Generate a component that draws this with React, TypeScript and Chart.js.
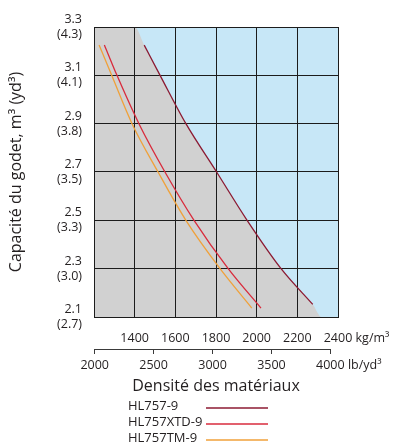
import React, { useEffect, useRef } from 'react';
import { Chart, registerables } from 'chart.js';

// ---- data ----
const kgTicks = [1200, 1400, 1600, 1800, 2000, 2200, 2400];
const lbTicks = [2000, 2500, 3000, 3500, 4000];
const lbRange = [1994, 4065];
const capTicks = [2.1, 2.3, 2.5, 2.7, 2.9, 3.1, 3.3];
const capM3Labels = ['2.1', '2.3', '2.5', '2.7', '2.9', '3.1', '3.3'];
const capYd3Labels = ['(2.7)', '(3.0)', '(3.3)', '(3.5)', '(3.8)', '(4.1)', '(4.3)'];
const kgUnit = 'kg/m³';
const lbUnit = 'lb/yd³';
const xTitle = 'Densité des matériaux';
const yTitle = 'Capacité du godet, m³ (yd³)';

const seriesNames = ['HL757-9', 'HL757XTD-9', 'HL757TM-9'];
const hl757Kg = [1447, 1525, 1652, 1803, 1953, 2120, 2276];
const hl757Cap = [3.225, 3.1, 2.9, 2.7, 2.5, 2.3, 2.152];
const xtdKg = [1251, 1313, 1421, 1549, 1692, 1860, 2021];
const xtdCap = [3.226, 3.1, 2.9, 2.7, 2.5, 2.3, 2.137];
const tmKg = [1225, 1287, 1387, 1515, 1652, 1820, 1976];
const tmCap = [3.226, 3.1, 2.9, 2.7, 2.5, 2.3, 2.137];
// boundary of the grey zone (HL757-9 curve extended to the plot edges)
const zoneKg = [1200, 1400, 1447, 1525, 1652, 1803, 1953, 2120, 2276, 2320, 2400];
const zoneCap = [3.3, 3.3, 3.225, 3.1, 2.9, 2.7, 2.5, 2.3, 2.152, 2.1, 2.1];

const FONT = '"Open Sans", "DejaVu Sans", sans-serif';
const TEXT = '#231F20';
const GRID = '#1c1c1c';

const toPts = (xs: number[], ys: number[]) => xs.map((x, i) => ({ x, y: ys[i] }));

const bgPlugin = {
  id: 'areaBg',
  beforeDraw(chart: any) {
    const { ctx, chartArea: a } = chart;
    if (!a) return;
    ctx.save();
    ctx.fillStyle = '#C7E7F7';
    ctx.fillRect(a.left, a.top, a.right - a.left, a.bottom - a.top);
    ctx.restore();
  },
};

Chart.register(bgPlugin as any, ...registerables);

const KG_PAD = 13.5;
const LB_PAD = 3.5;
const TICK_SIZE = 12.5;
const TICK_LH = 15;

const overlay = {
  id: 'overlay',
  afterDraw(chart: any) {
    const ctx = chart.ctx;
    const kg = chart.scales.x;
    const lb = chart.scales.lb;
    ctx.save();
    ctx.font = `${TICK_SIZE}px ${FONT}`;
    ctx.fillStyle = TEXT;
    ctx.textBaseline = 'middle';
    ctx.textAlign = 'left';
    // unit after last kg tick
    const lastKg = kgTicks[kgTicks.length - 1];
    const kx = kg.getPixelForValue(lastKg) + ctx.measureText(String(lastKg)).width / 2;
    ctx.fillText(' ' + kgUnit, kx, kg.top + KG_PAD + TICK_LH / 2);
    const lastLb = lbTicks[lbTicks.length - 1];
    const lx = lb.getPixelForValue(lastLb) + ctx.measureText(String(lastLb)).width / 2;
    ctx.fillText(' ' + lbUnit, lx, lb.top + 5 + LB_PAD + TICK_LH / 2);
    // lb axis line
    ctx.strokeStyle = '#3a3a3a';
    ctx.lineWidth = 1;
    ctx.beginPath();
    ctx.moveTo(Math.round(lb.getPixelForValue(lbTicks[0])) - 0.5, Math.round(lb.top) + 0.5);
    ctx.lineTo(Math.round(lb.getPixelForValue(lastLb)) + 0.5, Math.round(lb.top) + 0.5);
    ctx.stroke();
    // legend
    ctx.font = `13px ${FONT}`;
    let row = 0;
    chart.data.datasets.forEach((ds: any) => {
      if (!ds.label) return;
      const y = 406 + row * 16;
      ctx.fillStyle = TEXT;
      ctx.fillText(ds.label, 128, y);
      ctx.strokeStyle = ds.borderColor;
      ctx.lineWidth = 1.3;
      ctx.beginPath();
      ctx.moveTo(206, y + 2);
      ctx.lineTo(268, y + 2);
      ctx.stroke();
      row++;
    });
    ctx.restore();
  },
};

export default function App() {
  const ref = useRef<HTMLCanvasElement>(null);
  useEffect(() => {
    document.body.style.margin = '0';
    Chart.defaults.font.family = FONT;
    Chart.defaults.color = TEXT;
    const lineDs = (label: string, xs: number[], ys: number[], color: string) => ({
      label,
      data: toPts(xs, ys),
      borderColor: color,
      backgroundColor: color,
      borderWidth: 1.3,
      pointRadius: 0,
      fill: false,
      cubicInterpolationMode: 'monotone' as const,
    });
    const chart = new Chart(ref.current!, {
      type: 'line',
      data: {
        datasets: [
          {
            label: '',
            data: toPts(zoneKg, zoneCap),
            borderColor: 'transparent',
            borderWidth: 0,
            backgroundColor: '#D1D1D1',
            pointRadius: 0,
            fill: 'start',
            cubicInterpolationMode: 'monotone',
          } as any,
          lineDs(seriesNames[0], hl757Kg, hl757Cap, '#8C1A32'),
          lineDs(seriesNames[1], xtdKg, xtdCap, '#D92B3C'),
          lineDs(seriesNames[2], tmKg, tmCap, '#F0A13A'),
        ],
      },
      options: {
        responsive: false,
        animation: false,
        events: [],
        layout: { padding: { top: 24, right: 60, bottom: 48, left: 0 } },
        plugins: {
          legend: { display: false },
          tooltip: { enabled: false },
          filler: { drawTime: 'beforeDraw' } as any,
        },
        scales: {
          x: {
            type: 'linear',
            position: 'bottom',
            weight: 0,
            min: kgTicks[0],
            max: kgTicks[kgTicks.length - 1],
            afterBuildTicks: (s: any) => { s.ticks = kgTicks.map((v) => ({ value: v })); },
            afterFit: (s: any) => { s.height = 32; },
            grid: { color: GRID, lineWidth: 1, drawTicks: false },
            border: { display: true, color: GRID },
            ticks: {
              autoSkip: false,
              maxRotation: 0,
              padding: KG_PAD,
              font: { size: TICK_SIZE, lineHeight: TICK_LH / TICK_SIZE },
              callback: (v: any, i: number) => (i === 0 ? '' : String(kgTicks[i])),
            },
          },
          lb: {
            type: 'linear',
            position: 'bottom',
            weight: 1,
            min: lbRange[0],
            max: lbRange[1],
            afterBuildTicks: (s: any) => { s.ticks = lbTicks.map((v) => ({ value: v })); },
            afterFit: (s: any) => { s.height = 48; },
            grid: { drawOnChartArea: false, drawTicks: true, tickLength: 5, tickColor: '#3a3a3a', lineWidth: 1 },
            border: { display: false },
            ticks: {
              autoSkip: false,
              maxRotation: 0,
              padding: LB_PAD,
              font: { size: TICK_SIZE, lineHeight: TICK_LH / TICK_SIZE },
              callback: (v: any, i: number) => String(lbTicks[i]),
            },
            title: {
              display: true,
              text: xTitle,
              font: { size: 16 },
              padding: { top: 0, bottom: 1 },
            },
          },
          y: {
            type: 'linear',
            position: 'left',
            min: capTicks[0],
            max: capTicks[capTicks.length - 1],
            afterBuildTicks: (s: any) => { s.ticks = capTicks.map((v) => ({ value: v })); },
            afterFit: (s: any) => { s.width = 94; },
            grid: { color: GRID, lineWidth: 1, drawTicks: false },
            border: { display: true, color: GRID },
            ticks: {
              autoSkip: false,
              padding: 12,
              font: { size: TICK_SIZE, lineHeight: TICK_LH / TICK_SIZE },
              callback: (v: any, i: number) => [capM3Labels[i], capYd3Labels[i]],
            },
            title: {
              display: true,
              text: yTitle,
              font: { size: 16 },
              padding: { top: 7, bottom: 0 },
            },
          },
        },
      },
      plugins: [overlay as any],
    });
    return () => chart.destroy();
  }, []);
  return (
    <div style={{ position: 'absolute', left: 0, top: 0, width: 398, height: 445 }}>
      <canvas ref={ref} width={398} height={445} style={{ display: 'block' }} />
    </div>
  );
}
